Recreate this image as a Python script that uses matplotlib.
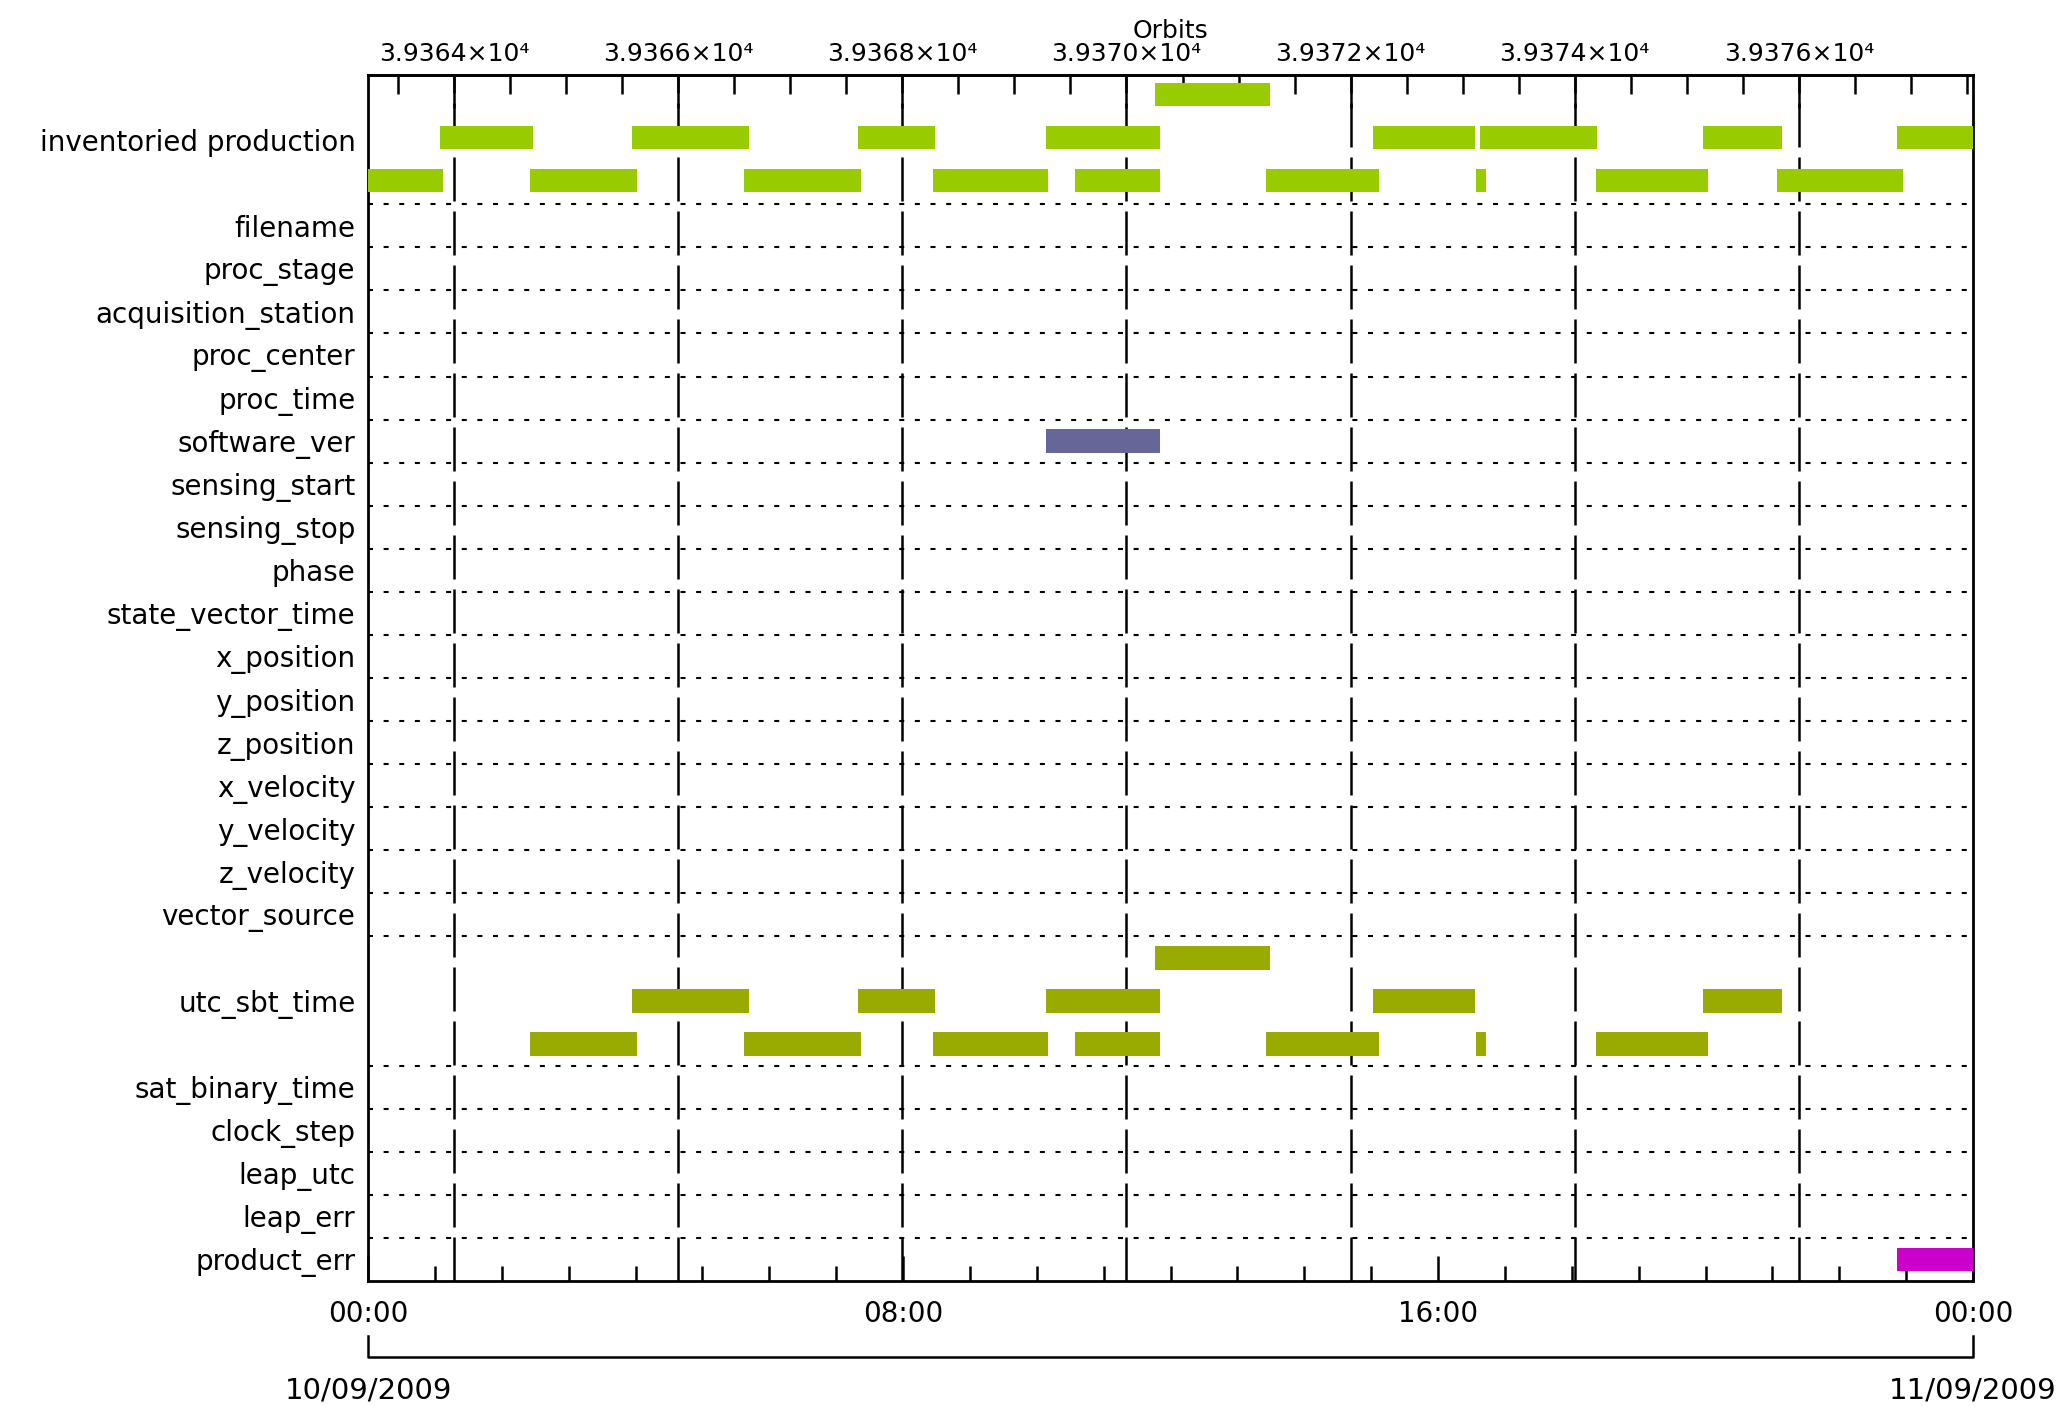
import matplotlib
matplotlib.use("Agg")
import matplotlib.pyplot as plt
from matplotlib.ticker import MultipleLocator

plt.rcParams['font.family'] = ['DejaVu Sans']
plt.rcParams['font.size'] = 20

# rows, top to bottom, and how many lanes each one has
row_names = ["inventoried production", "filename", "proc_stage", "acquisition_station",
             "proc_center", "proc_time", "software_ver", "sensing_start", "sensing_stop",
             "phase", "state_vector_time", "x_position", "y_position", "z_position",
             "x_velocity", "y_velocity", "z_velocity", "vector_source", "utc_sbt_time",
             "sat_binary_time", "clock_step", "leap_utc", "leap_err", "product_err"]
row_lanes = [3, 1, 1, 1, 1, 1, 1, 1, 1, 1, 1, 1, 1, 1, 1, 1, 1, 1, 3, 1, 1, 1, 1, 1]

# coverage intervals (start, stop) as HH:MM on 10/09/2009
inv_lane1 = [("11:46", "13:29")]
inv_lane2 = [("01:05", "02:28"), ("03:57", "05:42"), ("07:20", "08:29"), ("10:08", "11:51"),
             ("15:02", "16:33"), ("16:38", "18:23"), ("19:58", "21:09"), ("22:52", "24:00")]
inv_lane3 = [("00:00", "01:07"), ("02:25", "04:01"), ("05:37", "07:22"), ("08:27", "10:10"),
             ("10:34", "11:51"), ("13:26", "15:07"), ("16:34", "16:43"), ("18:22", "20:02"),
             ("21:04", "22:57")]
software_ver_bars = [("10:08", "11:51")]
utc_lane1 = [("11:46", "13:29")]
utc_lane2 = [("03:57", "05:42"), ("07:20", "08:29"), ("10:08", "11:51"), ("15:02", "16:33"),
             ("19:58", "21:09")]
utc_lane3 = [("02:25", "04:01"), ("05:37", "07:22"), ("08:27", "10:10"), ("10:34", "11:51"),
             ("13:26", "15:07"), ("16:34", "16:43"), ("18:22", "20:02")]
product_err_bars = [("22:52", "24:00")]

time_ticks = [0, 8, 16, 24]
time_labels = ["00:00", "08:00", "16:00", "00:00"]
start_date = "10/09/2009"
end_date = "11/09/2009"

# orbit number at 00:00 and orbit period in hours
orbit_at_start = 39363.233
orbit_period_h = 1.676
orbit_ticks = [39364, 39366, 39368, 39370, 39372, 39374, 39376]


def hours(s):
    h, m = s.split(":")
    return int(h) + int(m) / 60.0


def h2orb(h):
    return orbit_at_start + h / orbit_period_h


def orb2h(o):
    return (o - orbit_at_start) * orbit_period_h


fig = plt.figure(figsize=(20.62, 14.07), dpi=100)
ax = fig.add_axes([368 / 2062, 1 - 1281 / 1407, 1605 / 2062, 1206 / 1407])

nrows = sum(row_lanes)
ax.set_xlim(0, 24)
ax.set_ylim(nrows, 0)

# row top positions
tops = []
y = 0
for n in row_lanes:
    tops.append(y)
    y += n

# dotted separators between rows
for t in tops[1:]:
    ax.axhline(t, color='black', lw=1.5, dashes=(2.4, 5.1), zorder=1)

# dashed orbit lines
for o in orbit_ticks:
    ax.axvline(orb2h(o), color='black', lw=1.8, dashes=(17.6, 4.0), zorder=1)


def draw(lane_top, intervals, color, offset=0.5):
    starts = [hours(a) for a, b in intervals]
    widths = [hours(b) - hours(a) for a, b in intervals]
    ax.barh([lane_top + offset] * len(starts), widths, left=starts, height=0.55,
            color=color, edgecolor='none', zorder=3)


inv_top = tops[row_names.index("inventoried production")]
draw(inv_top, inv_lane1, "#99CC00", 0.45)
draw(inv_top + 1, inv_lane2, "#99CC00", 0.45)
draw(inv_top + 2, inv_lane3, "#99CC00", 0.45)
draw(tops[row_names.index("software_ver")], software_ver_bars, "#666699")
utc_top = tops[row_names.index("utc_sbt_time")]
draw(utc_top, utc_lane1, "#99AA00")
draw(utc_top + 1, utc_lane2, "#99AA00")
draw(utc_top + 2, utc_lane3, "#99AA00")
draw(tops[row_names.index("product_err")], product_err_bars, "#CC00CC")

# row labels
ax.set_yticks([t + n / 2 for t, n in zip(tops, row_lanes)], labels=row_names)
ax.tick_params(axis='y', length=0, pad=9)

# time axis
ax.set_xticks(time_ticks, labels=time_labels)
ax.xaxis.set_minor_locator(MultipleLocator(1))
ax.tick_params(axis='x', which='major', direction='in', length=18, width=1.8, pad=14)
ax.tick_params(axis='x', which='minor', direction='in', length=11, width=1.8)
for s in ax.spines.values():
    s.set_linewidth(2)

# orbit axis on top
sec = ax.secondary_xaxis('top', functions=(h2orb, orb2h))
sec.set_xticks(orbit_ticks, labels=[f"{o / 1e4:.4f}×10⁴" for o in orbit_ticks])
sec.xaxis.set_minor_locator(MultipleLocator(0.5))
sec.tick_params(which='major', direction='in', length=24, width=1.8, pad=6.5, labelsize=18)
sec.tick_params(which='minor', direction='in', length=14, width=1.8)
sec.spines['top'].set_linewidth(2)
sec.set_xlabel("Orbits", fontsize=18, labelpad=3)

# date bracket under the time axis
tr = ax.get_xaxis_transform()
ax.plot([0, 0, 24, 24], [-0.046, -0.063, -0.063, -0.046], color='black', lw=1.8,
        transform=tr, clip_on=False)
ax.text(0, -0.091, start_date, transform=tr, ha='center', va='center', fontsize=21)
ax.text(24, -0.091, end_date, transform=tr, ha='center', va='center', fontsize=21)

fig.savefig("out.png", dpi=100)
